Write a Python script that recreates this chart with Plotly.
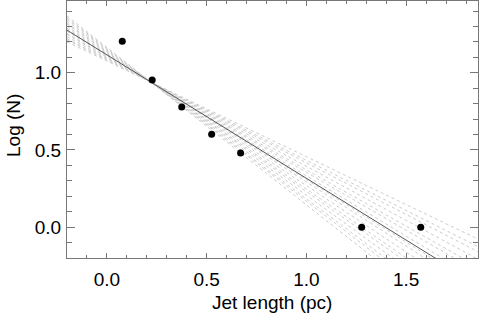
import plotly.graph_objects as go

# Data points
jet_length = [0.077, 0.227, 0.375, 0.525, 0.67, 1.277, 1.573]
log_n = [1.205, 0.953, 0.778, 0.601, 0.48, 0.0, 0.0]

# Best fit line (slope, intercept)
fit_slope = -0.80
fit_intercept = 1.116

# Fan of alternative fits (slopes, intercepts)
fan_slopes = [-0.62, -0.65, -0.67, -0.70, -0.73, -0.75, -0.78, -0.81,
              -0.83, -0.86, -0.89, -0.91, -0.94, -0.97, -0.99, -1.02]
fan_intercepts = [1.076, 1.083, 1.087, 1.094, 1.101, 1.105, 1.112, 1.118,
                  1.123, 1.129, 1.136, 1.140, 1.147, 1.153, 1.158, 1.164]

x_range = [-0.2, 1.86]
y_range = [-0.2, 1.465]

x_title = "Jet length (pc)"
y_title = "Log (N)"

FONT = "Liberation Sans, Arial, sans-serif"

fig = go.Figure()

for m, b in zip(fan_slopes, fan_intercepts):
    fig.add_trace(go.Scatter(
        x=x_range, y=[b + m * x for x in x_range], mode="lines",
        line=dict(color="#cccccc", width=1, dash="dot"),
        showlegend=False, hoverinfo="skip"))

fig.add_trace(go.Scatter(
    x=x_range, y=[fit_intercept + fit_slope * x for x in x_range], mode="lines",
    line=dict(color="#555555", width=1), showlegend=False))

fig.add_trace(go.Scatter(
    x=jet_length, y=log_n, mode="markers",
    marker=dict(color="black", size=7), showlegend=False))

axis_common = dict(
    showgrid=False, zeroline=False, showline=True, linecolor="#777777",
    linewidth=1, mirror="ticks", ticks="inside", tickcolor="#777777",
    automargin=False,
    tickfont=dict(family=FONT, size=19, color="black"),
)

fig.update_xaxes(
    range=x_range, tick0=0, dtick=0.5, ticklen=5, tickformat=".1f",
    minor=dict(tick0=0, dtick=0.1, ticklen=3, ticks="inside", tickcolor="#777777"),
    ticklabelstandoff=4,
    **axis_common)
fig.update_yaxes(
    range=y_range, tick0=0, dtick=0.5, ticklen=8, tickformat=".1f",
    minor=dict(tick0=0, dtick=0.1, ticklen=5, ticks="inside", tickcolor="#777777"),
    ticklabelstandoff=1,
    **axis_common)

fig.add_annotation(text=x_title, xref="paper", yref="paper",
                   x=(272 - 67) / 411, y=-(302 - 258) / 257,
                   xanchor="center", yanchor="middle", showarrow=False,
                   font=dict(family=FONT, size=19, color="black"))
fig.add_annotation(text=y_title, xref="paper", yref="paper",
                   x=(13 - 67) / 411, y=(258 - 126) / 257, textangle=-90,
                   xanchor="center", yanchor="middle", showarrow=False,
                   font=dict(family=FONT, size=19, color="black"))

fig.update_layout(
    width=480, height=314,
    margin=dict(l=67, r=2, t=1, b=56),
    paper_bgcolor="white", plot_bgcolor="white",
)

fig.write_html("out.html", config={"displayModeBar": False},
               post_script="document.body.style.margin='0';document.body.style.padding='0';")
